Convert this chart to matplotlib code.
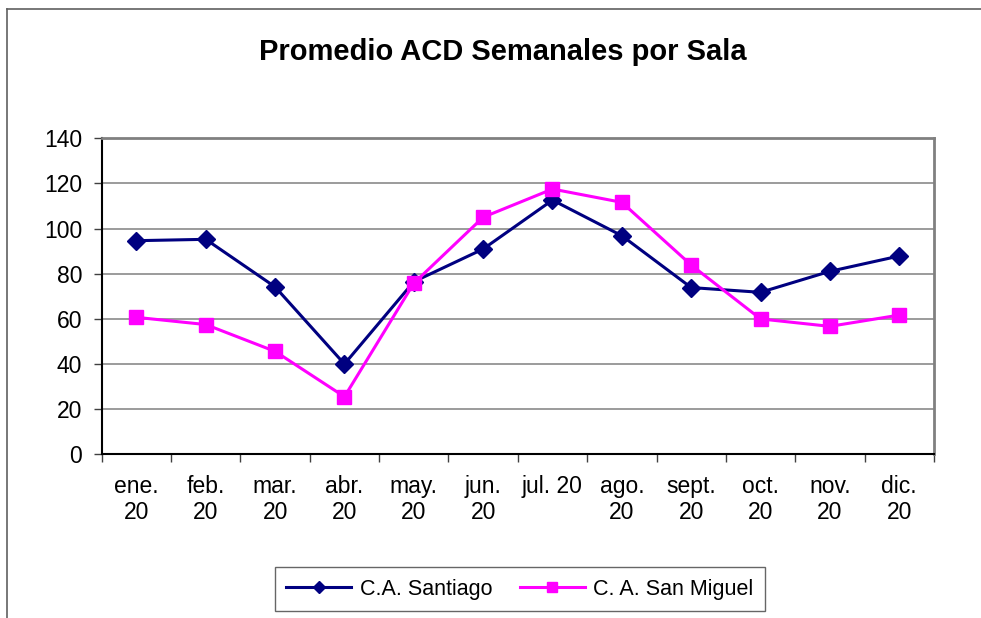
import matplotlib
matplotlib.use("Agg")
import matplotlib.pyplot as plt
from matplotlib.lines import Line2D

plt.rcParams['font.family'] = ['Liberation Sans', 'DejaVu Sans']

months = ["ene.\n20", "feb.\n20", "mar.\n20", "abr.\n20", "may.\n20", "jun.\n20",
          "jul. 20", "ago.\n20", "sept.\n20", "oct.\n20", "nov.\n20", "dic.\n20"]
santiago = [94.6, 95.2, 74.1, 39.9, 76.4, 90.9, 112.6, 96.8, 73.8, 71.7, 81.0, 87.8]
san_miguel = [60.6, 57.4, 45.5, 25.4, 75.7, 105.0, 117.5, 111.6, 83.8, 59.9, 56.6, 61.6]
yticks = [0, 20, 40, 60, 80, 100, 120, 140]

fig = plt.figure(figsize=(9.81, 6.18), dpi=100)
ax = fig.add_axes([0.1037, 0.2654, 0.8483, 0.5108])

x = list(range(len(months)))
ax.plot(x, santiago, color='#000080', lw=2.2, marker='D', ms=9,
        label='C.A. Santiago', zorder=3)
ax.plot(x, san_miguel, color='#FF00FF', lw=2.2, marker='s', ms=10.5,
        label='C. A. San Miguel', zorder=3)

ax.set_xlim(-0.5, len(months) - 0.5)
ax.set_ylim(0, 140)
ax.set_yticks(yticks)
ax.set_yticklabels([str(v) for v in yticks], fontsize=16.5)
ax.yaxis.grid(True, color='#808080', lw=1.1)
ax.set_axisbelow(True)

ax.set_xticks(x)
ax.set_xticklabels(months, fontsize=16.5, linespacing=1.15)
ax.tick_params(axis='x', which='major', length=0, pad=15)
ax.set_xticks([i - 0.5 for i in range(len(months) + 1)], minor=True)
ax.tick_params(axis='x', which='minor', length=6, width=1, color='#404040', direction='out')
ax.tick_params(axis='y', length=6, width=1, color='#404040', direction='out', pad=8)

for s in ['left', 'bottom']:
    ax.spines[s].set_color('black')
    ax.spines[s].set_linewidth(1.5)
for s in ['top', 'right']:
    ax.spines[s].set_color('#808080')
    ax.spines[s].set_linewidth(2)

fig.text(0.513, 0.916, 'Promedio ACD Semanales por Sala', ha='center', va='center',
         fontsize=21, fontweight='bold')

leg = fig.legend(loc='center', ncol=2, fontsize=15.5,
                 frameon=True, fancybox=False, edgecolor='#404040',
                 handlelength=3.0, markerscale=0.7, borderpad=0.55,
                 columnspacing=1.3, handletextpad=0.4)
leg.set_bbox_to_anchor((520 / 981, 1 - 589 / 618), transform=fig.transFigure)
leg.get_frame().set_linewidth(1)

fig.add_artist(Line2D([6.5 / 981, 6.5 / 981], [0, 1 - 9 / 618], transform=fig.transFigure,
                      color='#606060', lw=1.2))
fig.add_artist(Line2D([6.5 / 981, 1], [1 - 9 / 618, 1 - 9 / 618], transform=fig.transFigure,
                      color='#606060', lw=1.2))

fig.savefig('out.png', dpi=100)
